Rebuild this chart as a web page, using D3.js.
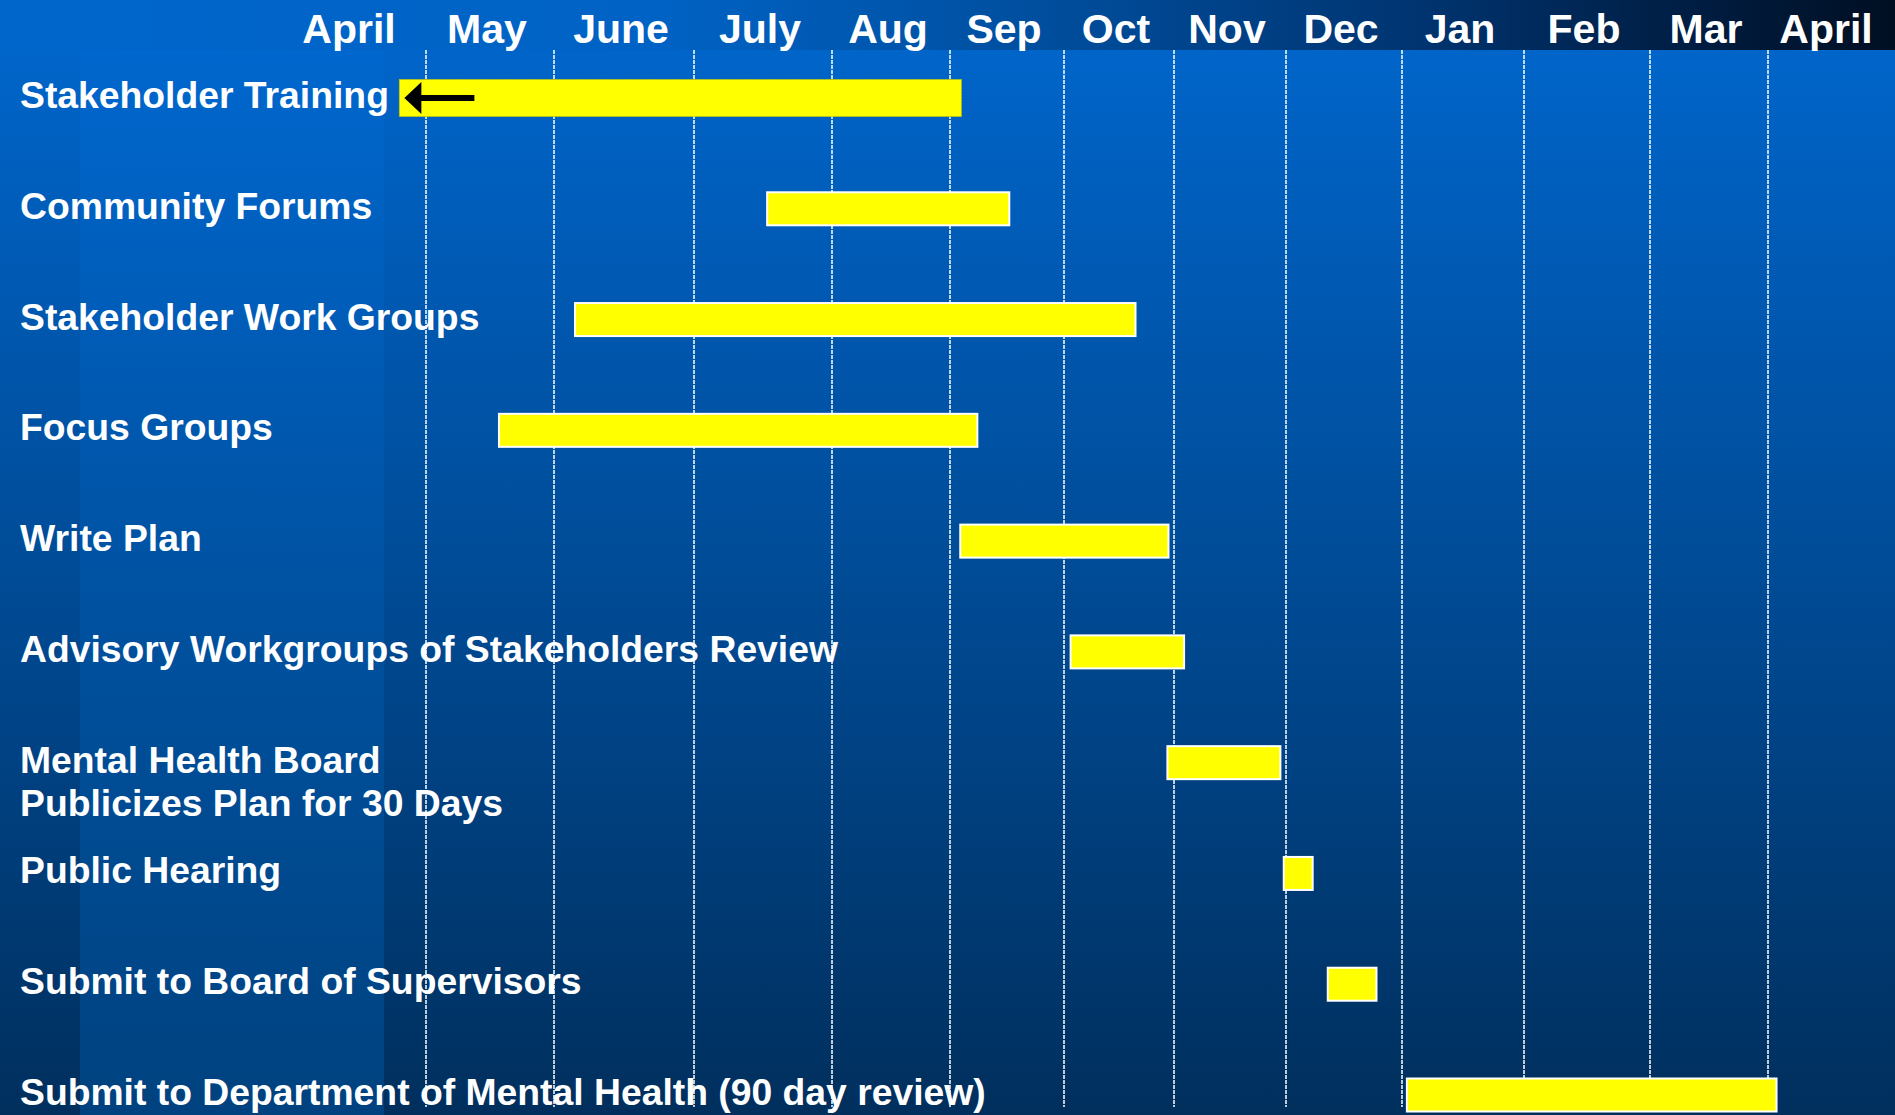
<!DOCTYPE html>
<html>
<head>
<meta charset="utf-8">
<script src="https://cdn.jsdelivr.net/npm/d3@7"></script>
<style>
  body { margin: 0; background: #00305f; overflow: hidden; }
  svg { display: block; }
  text { font-family: "Liberation Sans", Arial, sans-serif; font-weight: bold; fill: #ffffff; }
</style>
</head>
<body>
<div id="chart"></div>
<script>
var months = ["April", "May", "June", "July", "Aug", "Sep", "Oct", "Nov", "Dec", "Jan", "Feb", "Mar", "April"];

var tasks = [
  "Stakeholder Training",
  "Community Forums",
  "Stakeholder Work Groups",
  "Focus Groups",
  "Write Plan",
  "Advisory Workgroups of Stakeholders Review",
  "Mental Health Board\nPublicizes Plan for 30 Days",
  "Public Hearing",
  "Submit to Board of Supervisors",
  "Submit to Department of Mental Health (90 day review)"
];

// start and end, in months counted from the 1st of April
var taskStart = [0.82, 3.53, 2.15, 1.57, 5.09, 6.06, 6.94, 7.98, 8.36, 9.04];
var taskEnd = [5.10, 5.52, 6.65, 5.24, 6.95, 7.09, 7.95, 8.23, 8.78, 12.07];

// tasks already under way before the chart starts (drawn with a back arrow)
var startedEarlier = ["Stakeholder Training"];

function init() {
  var w = 1895;
  var h = 1115;
  var headerH = 50;
  var barH = 33;

  // month boundaries on the slide are not evenly spaced, so the scale is piecewise
  var xScale = d3.scaleLinear()
    .domain(d3.range(0, months.length + 1))
    .range([278, 426, 554, 694, 832, 950, 1064, 1174, 1286, 1402, 1524, 1650, 1768, 1890]);

  var yScale = d3.scalePoint()
    .domain(tasks)
    .range([108, 1105]);

  var data = tasks.map(function(t, i) {
    return { name: t, start: taskStart[i], end: taskEnd[i], early: startedEarlier.indexOf(t) >= 0 };
  });

  var svg = d3.select("#chart")
    .append("svg")
    .attr("width", w)
    .attr("height", h);

  var defs = svg.append("defs");

  var bg = defs.append("linearGradient")
    .attr("id", "bg")
    .attr("x1", 0).attr("y1", 0).attr("x2", 0).attr("y2", 1);
  bg.append("stop").attr("offset", "0%").attr("stop-color", "#0067ce");
  bg.append("stop").attr("offset", "50%").attr("stop-color", "#004c98");
  bg.append("stop").attr("offset", "100%").attr("stop-color", "#002f5d");

  var band = defs.append("linearGradient")
    .attr("id", "band")
    .attr("x1", 0).attr("y1", 0).attr("x2", 0).attr("y2", 1);
  band.append("stop").attr("offset", "0%").attr("stop-color", "#0067ce");
  band.append("stop").attr("offset", "50%").attr("stop-color", "#0052a2");
  band.append("stop").attr("offset", "100%").attr("stop-color", "#00427f");

  var head = defs.append("linearGradient")
    .attr("id", "head")
    .attr("x1", 0).attr("y1", 0).attr("x2", 1).attr("y2", 0);
  head.append("stop").attr("offset", "0%").attr("stop-color", "#0066cc");
  head.append("stop").attr("offset", "35%").attr("stop-color", "#0062c4");
  head.append("stop").attr("offset", "55%").attr("stop-color", "#004e9e");
  head.append("stop").attr("offset", "75%").attr("stop-color", "#003470");
  head.append("stop").attr("offset", "90%").attr("stop-color", "#001c40");
  head.append("stop").attr("offset", "100%").attr("stop-color", "#000f22");

  svg.append("rect")
    .attr("width", w)
    .attr("height", h)
    .attr("fill", "url(#bg)");

  svg.append("rect")
    .attr("x", 80)
    .attr("y", headerH)
    .attr("width", 304)
    .attr("height", h - headerH)
    .attr("fill", "url(#band)");

  svg.append("rect")
    .attr("width", w)
    .attr("height", headerH)
    .attr("fill", "url(#head)");

  // dashed month dividers
  svg.selectAll("line.grid")
    .data(d3.range(1, months.length))
    .enter()
    .append("line")
    .attr("class", "grid")
    .attr("x1", function(d) { return xScale(d); })
    .attr("x2", function(d) { return xScale(d); })
    .attr("y1", headerH)
    .attr("y2", h - 8)
    .attr("stroke", "#ffffff")
    .attr("stroke-width", 1.5)
    .attr("stroke-dasharray", "4,1");

  svg.selectAll("text.month")
    .data(months)
    .enter()
    .append("text")
    .attr("class", "month")
    .attr("x", function(d, i) { return xScale(i + 0.5) - 3; })
    .attr("y", 43)
    .attr("text-anchor", "middle")
    .attr("font-size", "41px")
    .text(function(d) { return d; });

  var label = svg.selectAll("text.task")
    .data(data)
    .enter()
    .append("text")
    .attr("class", "task")
    .attr("x", 20)
    .attr("y", function(d) { return yScale(d.name); })
    .attr("font-size", "37.3px");

  label.selectAll("tspan")
    .data(function(d) { return d.name.split("\n"); })
    .enter()
    .append("tspan")
    .attr("x", 20)
    .attr("dy", function(d, i) { return i === 0 ? 0 : 43.5; })
    .text(function(d) { return d; });

  function barY(d) {
    return yScale(d.name) - 10 - barH / 2;
  }

  svg.selectAll("rect.bar")
    .data(data)
    .enter()
    .append("rect")
    .attr("class", "bar")
    .attr("x", function(d) { return xScale(d.start); })
    .attr("y", function(d) { return d.early ? barY(d) - 2 : barY(d); })
    .attr("width", function(d) { return xScale(d.end) - xScale(d.start); })
    .attr("height", function(d) { return d.early ? barH + 4 : barH; })
    .attr("fill", "#ffff00")
    .attr("stroke", function(d) { return d.early ? "#c8c800" : "#ffffff"; })
    .attr("stroke-width", function(d) { return d.early ? 1 : 2; })
    .attr("stroke-dasharray", function(d) { return d.early ? "2,1" : null; });

  // back arrow for tasks that began earlier
  svg.selectAll("path.arrow")
    .data(data.filter(function(d) { return d.early; }))
    .enter()
    .append("path")
    .attr("class", "arrow")
    .attr("fill", "#000000")
    .attr("d", function(d) {
      var x0 = xScale(d.start) + 5;
      var cy = barY(d) + barH / 2;
      return "M" + x0 + "," + cy +
        "L" + (x0 + 17) + "," + (cy - 16) +
        "L" + (x0 + 17) + "," + (cy - 3) +
        "L" + (x0 + 70) + "," + (cy - 3) +
        "L" + (x0 + 70) + "," + (cy + 3) +
        "L" + (x0 + 17) + "," + (cy + 3) +
        "L" + (x0 + 17) + "," + (cy + 16) + "Z";
    });
}

window.onload = init;
</script>
</body>
</html>
